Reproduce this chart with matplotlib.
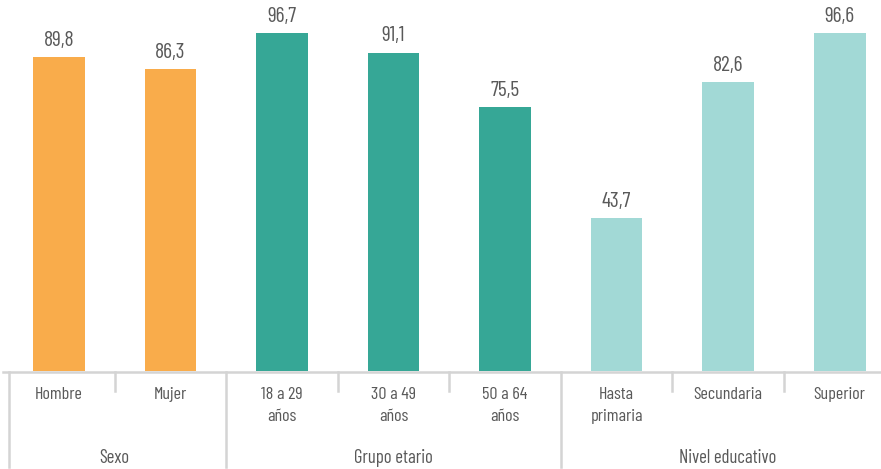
import matplotlib
matplotlib.use("Agg")
import matplotlib.pyplot as plt

# datos
categorias = ["Hombre", "Mujer", "18 a 29\naños", "30 a 49\naños", "50 a 64\naños",
              "Hasta\nprimaria", "Secundaria", "Superior"]
valores = [89.8, 86.3, 96.7, 91.1, 75.5, 43.7, 82.6, 96.6]
grupos = ["Sexo", "Grupo etario", "Nivel educativo"]
tam_grupos = [2, 3, 3]
colores_grupo = ["#F9AC4B", "#36A796", "#A2D9D6"]

plt.rcParams['font.family'] = ['Barlow Condensed', 'DejaVu Sans']
gris_txt = "#595959"
gris_lin = "#D4D4D4"

W, H = 881, 469
fig = plt.figure(figsize=(W / 100, H / 100), dpi=100)
base_px = 371
ax = fig.add_axes([3.25 / W, (H - base_px) / H, 877.75 / W, base_px / H])

colores = []
for c, n in zip(colores_grupo, tam_grupos):
    colores += [c] * n

x = list(range(len(valores)))
ax.bar(x, valores, width=0.466, color=colores, zorder=2)
ax.set_xlim(-0.5, 7.372)
ax.set_ylim(0, base_px / 3.495)

for xi, v in zip(x, valores):
    ax.annotate(f"{v:.1f}".replace(".", ","), (xi, v), xytext=(0, 12),
                textcoords="offset points", ha="center", va="center",
                fontsize=15.5, color=gris_txt)

for s in ["top", "right", "left", "bottom"]:
    ax.spines[s].set_visible(False)
ax.set_xticks([])
ax.set_yticks([])

tr = ax.get_xaxis_transform()
def py(px):
    # pixeles bajo la base -> fraccion de ejes
    return -px / base_px

ax.plot([-0.5, 7.5], [py(1), py(1)], color=gris_lin, lw=1.8, transform=tr, clip_on=False)

# separadores
limites = [-0.5]
acum = 0
for n in tam_grupos:
    acum += n
    limites.append(acum - 0.5)
for i in range(len(valores) - 1):
    b = i + 0.5
    largo = 96 if b in limites else 20
    ax.plot([b, b], [py(1), py(largo)], color=gris_lin, lw=1.8, transform=tr, clip_on=False)
ax.plot([-0.45, -0.45], [py(1), py(96)], color=gris_lin, lw=1.8, transform=tr, clip_on=False)

for xi, lab in zip(x, categorias):
    ax.text(xi, py(16), lab, ha="center", va="top", fontsize=13, color=gris_txt,
            linespacing=1.6, transform=tr)

inicio = 0
for g, n in zip(grupos, tam_grupos):
    ax.text(inicio + (n - 1) / 2, py(87), g, ha="center", va="center", fontsize=13.5,
            color=gris_txt, transform=tr)
    inicio += n

fig.savefig("out.png", dpi=100)
